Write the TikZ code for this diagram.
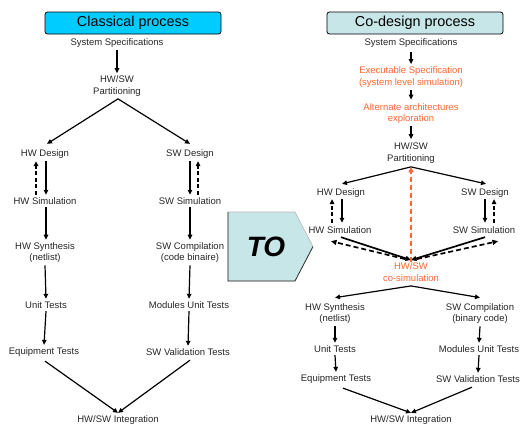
\documentclass[tikz,border=0pt]{standalone}
\usepackage{fontspec}
\setmainfont{Liberation Sans}
\usetikzlibrary{arrows.meta}
\definecolor{titlecyan}{RGB}{0,204,255}
\definecolor{paleteal}{RGB}{199,230,232}
\definecolor{orng}{RGB}{255,102,51}
\begin{document}
\begin{tikzpicture}[x=1pt,y=-1pt,
  lbl/.style={inner sep=2.5pt, font=\fontsize{9.5}{11.5}\selectfont, align=center, text=black!85},
  olbl/.style={lbl, text=orng},
  arr/.style={line width=1.2pt, -{Triangle[length=5pt,width=4.5pt]}},
  darr/.style={arr, dash pattern=on 4pt off 2.5pt},
  thickarr/.style={line width=1.7pt, -{Triangle[length=5.5pt,width=5pt]}},
  thickdarr/.style={thickarr, dash pattern=on 5pt off 3pt},
  titlebox/.style={draw=black, line width=0.8pt, rounded corners=2.5pt, minimum width=176pt, minimum height=22pt, inner sep=0pt, font=\fontsize{14.4}{16}\selectfont}
]
\useasboundingbox (0,0) rectangle (530,426);

% ---------- Left: classical process ----------
\node[titlebox, fill=titlecyan] (t1) at (133,23) {Classical process};
\node[lbl] (lss) at (117,43) {System Specifications};
\node[lbl] (lpart) at (117,86) {HW/SW\\Partitioning};
\node[lbl] (lhwd) at (45,154) {HW Design};
\node[lbl] (lswd) at (190,154) {SW Design};
\node[lbl] (lhws) at (45,201) {HW Simulation};
\node[lbl] (lsws) at (190,201) {SW Simulation};
\node[lbl] (lhwsyn) at (45,252.5) {HW Synthesis\\(netlist)};
\node[lbl] (lswc) at (190,252.5) {SW Compilation\\(code binaire)};
\node[lbl] (lut) at (46,305) {Unit Tests};
\node[lbl] (lmut) at (189,305) {Modules Unit Tests};
\node[lbl] (let) at (44,352) {Equipment Tests};
\node[lbl] (lsvt) at (188,352) {SW Validation Tests};
\node[lbl] (lint) at (118,420) {HW/SW Integration};

\draw[arr] (lss) -- (lpart);
\draw[arr] ([xshift=1pt]lpart.south) -- ([xshift=2pt,yshift=3pt]lhwd.north);
\draw[arr] ([xshift=1pt]lpart.south) -- ([yshift=3pt]lswd.north);
\draw[arr] ([xshift=1pt]lhwd.south) -- ([xshift=1pt]lhws.north);
\draw[darr] ([xshift=-9pt]lhws.north) -- ([xshift=-9pt]lhwd.south);
\draw[arr] (lswd.south) -- (lsws.north);
\draw[darr] ([xshift=8pt]lsws.north) -- ([xshift=8pt]lswd.south);
\draw[arr] ([xshift=1pt]lhws.south) -- ([xshift=1pt]lhwsyn.north);
\draw[arr] (lsws.south) -- (lswc.north);
\draw[arr] (lhwsyn.south) -- (lut.north);
\draw[arr] (lswc.south) -- (lmut.north);
\draw[arr] (lut.south) -- (let.north);
\draw[arr] (lmut.south) -- (lsvt.north);
\draw[arr] ([xshift=1pt,yshift=-2pt]let.south) -- (lint.north);
\draw[arr] ([xshift=2pt,yshift=-2pt]lsvt.south) -- (lint.north);

% ---------- TO arrow ----------
\filldraw[fill=paleteal, draw=gray!55, line width=0.6pt]
  (228,212) -- (295,212) -- (313,246.5) -- (295,281) -- (228,281) -- cycle;
\draw[gray!40!black, line width=0.8pt] (228,212) -- (228,281) -- (295,281) -- (313,246.5);
\node[font=\fontsize{28}{28}\selectfont\bfseries\itshape, inner sep=0pt] (to) at (266,247) {TO};

% ---------- Right: co-design process ----------
\node[titlebox, fill=paleteal] (t2) at (415,23) {Co-design process};
\node[lbl] (rss) at (411,43) {System Specifications};
\node[olbl] (rexe) at (411,77) {Executable Specification\\(system level simulation)};
\node[olbl] (ralt) at (411,113.5) {Alternate architectures\\exploration};
\node[lbl] (rpart) at (411,153) {HW/SW\\Partitioning};
\node[lbl] (rhwd) at (341,193) {HW Design};
\node[lbl] (rswd) at (485,193) {SW Design};
\node[lbl] (rhws) at (340,230) {HW Simulation};
\node[lbl] (rsws) at (484,230) {SW Simulation};
\node[olbl] (rcos) at (411,272) {HW/SW\\co-simulation};
\node[lbl] (rhwsyn) at (335,313.5) {HW Synthesis\\(netlist)};
\node[lbl] (rswc) at (480,313.5) {SW Compilation\\(binary code)};
\node[lbl] (rut) at (335,349) {Unit Tests};
\node[lbl] (rmut) at (479,349) {Modules Unit Tests};
\node[lbl] (ret) at (336,379) {Equipment Tests};
\node[lbl] (rsvt) at (478,379) {SW Validation Tests};
\node[lbl] (rint) at (411,420) {HW/SW Integration};

\draw[arr] ([yshift=-1.5pt]rss.south) -- (rexe.north);
\draw[arr] (rexe.south) -- ([yshift=1pt]ralt.north);
\draw[arr] (ralt.south) -- ([yshift=1pt]rpart.north);
\draw[arr] ([yshift=-1pt]rpart.south) -- ([xshift=1pt,yshift=2pt]rhwd.north);
\draw[arr] ([yshift=-1pt]rpart.south) -- ([xshift=1pt,yshift=2pt]rswd.north);
\draw[arr] ([xshift=1pt,yshift=1pt]rhwd.south) -- ([xshift=2pt,yshift=1pt]rhws.north);
\draw[darr] ([xshift=-8pt,yshift=1pt]rhws.north) -- ([xshift=-9pt,yshift=1pt]rhwd.south);
\draw[arr] ([yshift=1pt]rswd.south) -- ([xshift=1pt,yshift=1pt]rsws.north);
\draw[darr] ([xshift=10pt,yshift=1pt]rsws.north) -- ([xshift=9pt,yshift=1pt]rswd.south);

% co-simulation loop
\draw[thickarr] ([xshift=1pt,yshift=-1pt]rhws.south) -- (rcos.north);
\draw[thickarr] ([xshift=1pt,yshift=-1pt]rsws.south) -- (rcos.north);
\draw[thickdarr] ([xshift=-6pt,yshift=1pt]rcos.north) -- ([xshift=-9pt,yshift=-5pt]rhws.south);
\draw[thickdarr] ([xshift=6pt,yshift=1pt]rcos.north) -- ([xshift=14pt,yshift=-5pt]rsws.south);
\draw[thickdarr, draw=orng, fill=orng, line width=2pt] ([yshift=-2pt]rcos.north) -- ([yshift=-1pt]rpart.south);

\draw[arr] ([yshift=-2pt]rcos.south) -- ([yshift=3pt]rhwsyn.north);
\draw[arr] ([yshift=-2pt]rcos.south) -- ([yshift=3pt]rswc.north);
\draw[arr] (rhwsyn.south) -- (rut.north);
\draw[arr] (rswc.south) -- (rmut.north);
\draw[arr] (rut.south) -- (ret.north);
\draw[arr] (rmut.south) -- (rsvt.north);
\draw[arr] ([xshift=7pt,yshift=-2pt]ret.south) -- (rint.north);
\draw[arr] ([xshift=-6pt,yshift=-2pt]rsvt.south) -- (rint.north);
\end{tikzpicture}
\end{document}
